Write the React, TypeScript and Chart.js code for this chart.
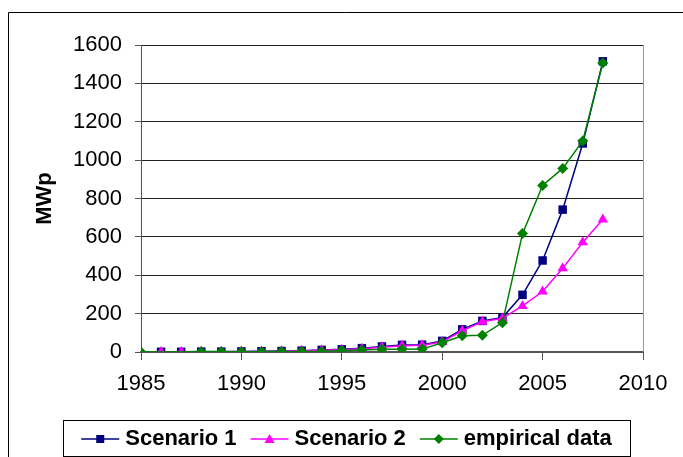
import React, { useEffect, useRef } from "react";
import { Chart, registerables } from "chart.js";

Chart.register(...registerables);

const years = [1985, 1986, 1987, 1988, 1989, 1990, 1991, 1992, 1993, 1994, 1995, 1996, 1997, 1998, 1999, 2000, 2001, 2002, 2003, 2004, 2005, 2006, 2007, 2008];
const scenario1 = [null, 1, 1, 2, 2, 3, 4, 5, 7, 11, 14, 20, 29, 37, 38, 58, 118, 162, 180, 298, 477, 742, 1087, 1515];
const scenario2 = [null, 0, 0, 1, 1, 2, 3, 4, 6, 9, 12, 17, 25, 32, 35, 52, 111, 158, 176, 240, 315, 436, 572, 690];
const empirical = [0, null, null, 1, 1, 1, 1, 2, 2, 3, 8, 10, 14, 14, 15, 48, 85, 87, 153, 617, 868, 957, 1100, 1506];
const seriesLabels = ["Scenario 1", "Scenario 2", "empirical data"];
const yTicks = [0, 200, 400, 600, 800, 1000, 1200, 1400, 1600];
const xTicks = [1985, 1990, 1995, 2000, 2005, 2010];

const FONT = "'Liberation Sans', Arial, sans-serif";

function pts(vals: (number | null)[]) {
  return years.map((y, i) => ({ x: y, y: vals[i] }));
}

const framePlugin = {
  id: "frame",
  beforeDraw(chart: any) {
    const ctx = chart.ctx;
    ctx.save();
    ctx.fillStyle = "#ffffff";
    ctx.fillRect(0, 0, chart.width, chart.height);
    ctx.strokeStyle = "#000000";
    ctx.lineWidth = 1;
    ctx.beginPath();
    ctx.moveTo(8.5, chart.height);
    ctx.lineTo(8.5, 12.5);
    ctx.lineTo(chart.width, 12.5);
    ctx.stroke();
    ctx.restore();
  },
  afterDraw(chart: any) {
    const ctx = chart.ctx;
    const a = chart.chartArea;
    ctx.save();
    ctx.strokeStyle = "#999999";
    ctx.lineWidth = 1;
    ctx.beginPath();
    ctx.moveTo(Math.round(a.right) + 0.5, a.top);
    ctx.lineTo(Math.round(a.right) + 0.5, a.bottom);
    ctx.stroke();

    // legend box
    const bx = 63, by = 420, bw = 567, bh = 36;
    ctx.strokeStyle = "#000000";
    ctx.strokeRect(bx + 0.5, by + 0.5, bw, bh);
    ctx.font = "bold 22px " + FONT;
    ctx.textBaseline = "middle";
    ctx.textAlign = "left";
    const lineLen = 38, gapA = 6, gapB = 14;
    const widths = seriesLabels.map((t) => ctx.measureText(t).width);
    const total = widths.reduce((s, w) => s + w, 0) + 3 * (lineLen + gapA) + 2 * gapB;
    let x = bx + (bw - total) / 2;
    const cy = by + bh / 2 + 1;
    chart.data.datasets.forEach((ds: any, i: number) => {
      ctx.strokeStyle = ds.borderColor;
      ctx.lineWidth = 1.5;
      ctx.beginPath();
      ctx.moveTo(x, cy);
      ctx.lineTo(x + lineLen, cy);
      ctx.stroke();
      const mx = x + lineLen / 2;
      ctx.fillStyle = ds.backgroundColor;
      ctx.beginPath();
      if (ds.pointStyle === "rect") {
        ctx.rect(mx - 4, cy - 4, 8, 8);
      } else if (ds.pointStyle === "triangle") {
        ctx.moveTo(mx, cy - 5);
        ctx.lineTo(mx + 5, cy + 4);
        ctx.lineTo(mx - 5, cy + 4);
        ctx.closePath();
      } else {
        ctx.moveTo(mx, cy - 5);
        ctx.lineTo(mx + 5, cy);
        ctx.lineTo(mx, cy + 5);
        ctx.lineTo(mx - 5, cy);
        ctx.closePath();
      }
      ctx.fill();
      x += lineLen + gapA;
      ctx.fillStyle = "#000000";
      ctx.fillText(ds.label, x, cy);
      x += widths[i] + gapB;
    });
    ctx.restore();
  },
};

export default function App() {
  const ref = useRef<HTMLCanvasElement | null>(null);
  useEffect(() => {
    document.body.style.margin = "0";
    if (!ref.current) return;
    const chart = new Chart(ref.current, {
      type: "line",
      data: {
        datasets: [
          {
            label: seriesLabels[0],
            data: pts(scenario1),
            borderColor: "#000080",
            backgroundColor: "#000080",
            pointStyle: "rect",
            pointRadius: 6,
            pointBorderWidth: 0,
            borderWidth: 1.5,
            order: 3,
          },
          {
            label: seriesLabels[1],
            data: pts(scenario2),
            borderColor: "#ff00ff",
            backgroundColor: "#ff00ff",
            pointStyle: "triangle",
            pointRadius: 6,
            pointBorderWidth: 0,
            borderWidth: 1.5,
            order: 2,
          },
          {
            label: seriesLabels[2],
            data: pts(empirical),
            borderColor: "#008000",
            backgroundColor: "#008000",
            pointStyle: "rectRot",
            pointRadius: 5.5,
            pointBorderWidth: 0,
            borderWidth: 1.5,
            spanGaps: true,
            order: 1,
          },
        ] as any,
      },
      options: {
        responsive: false,
        animation: false,
        layout: { padding: { left: 0, right: 40, top: 45, bottom: 0 } },
        plugins: { legend: { display: false }, tooltip: { enabled: false } },
        scales: {
          x: {
            type: "linear",
            min: 1985,
            max: 2010,
            afterBuildTicks: (s: any) => {
              s.ticks = xTicks.map((v) => ({ value: v }));
            },
            afterFit: (s: any) => {
              s.height = 105;
            },
            ticks: {
              font: { family: FONT, size: 22 },
              color: "#000000",
              padding: 11,
              maxRotation: 0,
              autoSkip: false,
              callback: (v: any) => String(v),
            },
            grid: {
              drawOnChartArea: false,
              drawTicks: true,
              tickLength: 8,
              color: "#555555",
            },
            border: { display: true, color: "#555555", width: 2 },
          },
          y: {
            min: 0,
            max: 1600,
            afterBuildTicks: (s: any) => {
              s.ticks = yTicks.map((v) => ({ value: v }));
            },
            afterFit: (s: any) => {
              s.width = 141;
            },
            ticks: {
              font: { family: FONT, size: 22 },
              color: "#000000",
              padding: 13,
              callback: (v: any) => String(v),
            },
            grid: {
              color: "#222222",
              tickLength: 6,
              tickColor: "#555555",
            },
            border: { display: true, color: "#555555", width: 1 },
            title: {
              display: true,
              text: "MWp",
              font: { family: FONT, size: 22, weight: "bold" },
              color: "#000000",
              padding: { top: 32, bottom: 0 },
            },
          },
        },
      },
      plugins: [framePlugin],
    });
    return () => chart.destroy();
  }, []);
  return (
    <div style={{ position: "fixed", left: 0, top: 0, width: 683, height: 457 }}>
      <canvas ref={ref} width={683} height={457} style={{ display: "block" }} />
    </div>
  );
}
